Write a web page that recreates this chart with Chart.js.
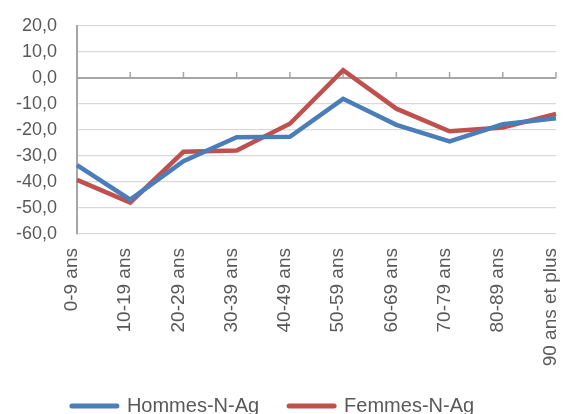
<!DOCTYPE html>
<html>
<head>
<meta charset="utf-8">
<script src="https://cdn.jsdelivr.net/npm/chart.js@4/dist/chart.umd.min.js"></script>
<style>
    html, body { margin: 0; padding: 0; background: #fff; }
    #wrap { width: 566px; height: 414px; }
</style>
</head>
<body>
<div id="wrap"><canvas id="chart" width="566" height="414"></canvas></div>
<script>
'use strict';

const ageGroups = ['0-9 ans', '10-19 ans', '20-29 ans', '30-39 ans', '40-49 ans',
    '50-59 ans', '60-69 ans', '70-79 ans', '80-89 ans', '90 ans et plus'];

const hommes = [-33.5, -46.8, -32.0, -22.8, -22.6, -8.0, -18.0, -24.4, -17.8, -15.5];
const femmes = [-39.2, -47.9, -28.4, -27.9, -17.6, 3.0, -11.8, -20.5, -19.0, -13.8];

const yTicks = [20, 10, 0, -10, -20, -30, -40, -50, -60];

const FONT = 'Liberation Sans';
const TEXT = '#595959';

// small tick marks sitting on the zero line, as the category axis crosses there
const zeroTicks = {
    id: 'zeroTicks',
    beforeDatasetsDraw(chart) {
        let x = chart.scales.x, y = chart.scales.y;
        let y0 = y.getPixelForValue(0);
        let ctx = chart.ctx;
        ctx.save();
        ctx.strokeStyle = '#a6a6a6';
        ctx.lineWidth = 1.5;
        ctx.beginPath();
        for (let i = 1; i < ageGroups.length; i++) {
            let px = x.getPixelForValue(i);
            ctx.moveTo(px, y0 - 6);
            ctx.lineTo(px, y0);
        }
        ctx.stroke();
        ctx.restore();
    }
};

// nudge the legend row a little to the left of the canvas centre
const legendShift = {
    id: 'legendShift',
    afterLayout(chart) {
        if (chart.legend) {
            chart.legend.left -= 5;
            chart.legend.right -= 5;
        }
    }
};

let chart = new Chart(document.getElementById('chart'), {
    type: 'line',
    data: {
        labels: ageGroups,
        datasets: [{
            label: 'Hommes-N-Ag',
            data: hommes,
            borderColor: '#4a7ebb',
            backgroundColor: '#4a7ebb',
            borderWidth: 4.5,
            pointRadius: 0,
            tension: 0,
            borderJoinStyle: 'miter',
        }, {
            label: 'Femmes-N-Ag',
            data: femmes,
            borderColor: '#c0504d',
            backgroundColor: '#c0504d',
            borderWidth: 4.5,
            pointRadius: 0,
            tension: 0,
            borderJoinStyle: 'miter',
        }]
    },
    options: {
        responsive: false,
        animation: false,
        layout: { padding: { top: 26, right: 10, left: 0, bottom: -12 } },
        plugins: {
            tooltip: { enabled: false },
            legend: {
                position: 'bottom',
                labels: {
                    color: TEXT,
                    font: { family: FONT, size: 20 },
                    usePointStyle: true,
                    pointStyleWidth: 45,
                    padding: 30,
                    generateLabels(c) {
                        return c.data.datasets.map((ds, i) => ({
                            text: ds.label,
                            fillStyle: ds.borderColor,
                            strokeStyle: ds.borderColor,
                            lineWidth: 5,
                            lineCap: 'round',
                            pointStyle: 'line',
                            fontColor: TEXT,
                            datasetIndex: i,
                        }));
                    }
                }
            }
        },
        scales: {
            x: {
                offset: false,
                grid: { display: false },
                border: { display: false },
                ticks: {
                    color: TEXT,
                    font: { family: FONT, size: 19 },
                    minRotation: 90,
                    maxRotation: 90,
                    autoSkip: false,
                    padding: 6,
                    labelOffset: -5,
                },
                afterFit(scale) {
                    scale.height = 132;
                    scale.paddingLeft = 0;
                    scale.paddingRight = 0;
                }
            },
            y: {
                min: -60,
                max: 20,
                afterBuildTicks(scale) {
                    scale.ticks = yTicks.map(v => ({ value: v }));
                },
                grid: {
                    drawTicks: false,
                    color: (c) => c.tick && c.tick.value === 0 ? '#a6a6a6' : '#d9d9d9',
                    lineWidth: (c) => c.tick && c.tick.value === 0 ? 2 : 1.3,
                },
                border: { color: '#a6a6a6', width: 2 },
                ticks: {
                    color: TEXT,
                    font: { family: FONT, size: 18 },
                    padding: 20,
                    autoSkip: false,
                    callback: (v) => v.toFixed(1).replace('.', ','),
                },
                afterFit(scale) {
                    scale.width = 77;
                    scale.paddingTop = 0;
                    scale.paddingBottom = 0;
                }
            }
        }
    },
    plugins: [zeroTicks, legendShift]
});
</script>
</body>
</html>
